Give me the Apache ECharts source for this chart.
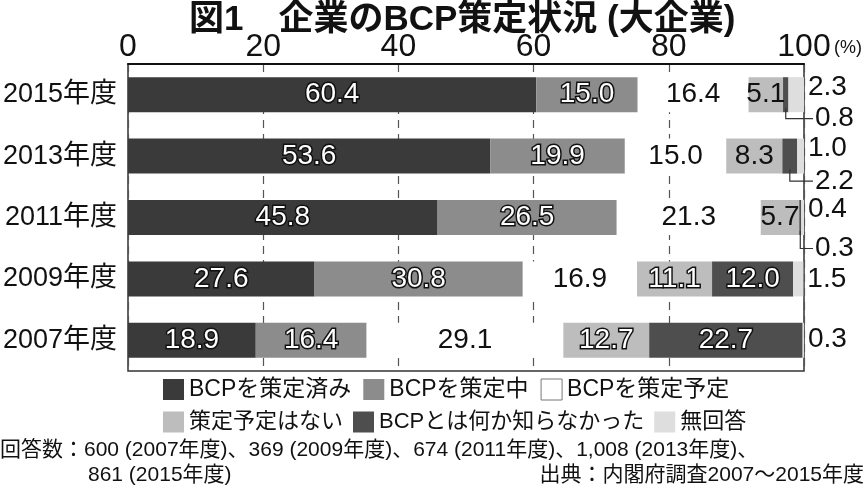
<!DOCTYPE html>
<html>
<head>
<meta charset="utf-8">
<script src="https://cdn.jsdelivr.net/npm/echarts@6/dist/echarts.min.js"></script>
<style>
html,body{margin:0;padding:0;background:#fff;}
#c{width:864px;height:493px;}
</style>
</head>
<body>
<div id="c"></div>
<script>
// ---- data ----
const years = ['2015年度', '2013年度', '2011年度', '2009年度', '2007年度'];
const seriesNames = ['BCPを策定済み', 'BCPを策定中', 'BCPを策定予定', '策定予定はない', 'BCPとは何か知らなかった', '無回答'];
const done      = [60.4, 53.6, 45.8, 27.6, 18.9];
const inProg    = [15.0, 19.9, 26.5, 30.8, 16.4];
const planned   = [16.4, 15.0, 21.3, 16.9, 29.1];
const noPlan    = [5.1, 8.3, 5.7, 11.1, 12.7];
const unknown   = [0.8, 2.2, 0.3, 12.0, 22.7];
const noAnswer  = [2.3, 1.0, 0.4, 1.5, 0.3];
const xTicks    = [0, 20, 40, 60, 80, 100];
const unitText  = '(%)';
const titleText = '図1　企業のBCP策定状況 (大企業)';
const noteLine1 = '回答数：600 (2007年度)、369 (2009年度)、674 (2011年度)、1,008 (2013年度)、';
const noteLine2 = '861 (2015年度)';
const sourceText = '出典：内閣府調査2007～2015年度';

// ---- styles ----
const FONT = "'Liberation Sans', 'Noto Sans CJK JP', sans-serif";
const colors = ['#3a3a3a', '#8c8c8c', '#ffffff', '#bdbdbd', '#4e4e4e', '#dedede'];
const fmt = p => Number(p.value).toFixed(1);
const outlined = { color: '#fff', textBorderColor: '#111', textBorderWidth: 3, fontSize: 28, fontFamily: FONT, formatter: fmt };
const plain = { color: '#111', fontSize: 28, fontFamily: FONT, formatter: fmt };
const labelKind = [
  ['o','o','o','o','o'],
  ['o','o','o','o','o'],
  ['p','p','p','p','p'],
  ['p','p','p','o','o'],
  ['x','x','x','o','o'],
  ['r','r','r','r','r']
];
const rightLabelDy = [-7, -8, -8, 0, -1];
const leaderDy = [24, 25, 31];

const allVals = [done, inProg, planned, noPlan, unknown, noAnswer];

function makeData(si) {
  return allVals[si].map((v, ci) => {
    const k = labelKind[si][ci];
    let label;
    if (k === 'o') label = Object.assign({ show: true, position: 'inside' }, outlined);
    else if (k === 'p') label = Object.assign({ show: true, position: 'inside' }, plain);
    else if (k === 'x') label = { show: false };
    else label = { show: true, position: 'right', distance: 4, offset: [0, rightLabelDy[ci]], color: '#111', fontSize: 28, fontFamily: FONT, formatter: fmt };
    return { value: v, label };
  });
}

const barSeries = seriesNames.map((name, si) => ({
  name, type: 'bar', stack: 'total', barWidth: '57%',
  itemStyle: { color: colors[si] },
  emphasis: { disabled: true },
  data: makeData(si)
}));

const leaderData = [];
years.forEach((y, ci) => {
  if (labelKind[4][ci] === 'x') {
    const start = done[ci] + inProg[ci] + planned[ci] + noPlan[ci];
    leaderData.push([start + unknown[ci] / 2, ci, unknown[ci]]);
  }
});

const leaderSeries = {
  type: 'custom', z: 10, silent: true,
  encode: { x: 0, y: 1 },
  data: leaderData,
  renderItem(params, api) {
    const xc = api.value(0), ci = api.value(1), v = api.value(2);
    const p = api.coord([xc, ci]);
    const band = api.size([0, 1])[1];
    const half = band * 0.57 / 2;
    const right = api.coord([100, ci])[0];
    const ly = p[1] + leaderDy[params.dataIndex];
    return {
      type: 'group',
      children: [
        { type: 'polyline', shape: { points: [[p[0], p[1] + half - 4], [p[0], ly], [right + 9, ly]] },
          style: { stroke: '#333', lineWidth: 1.2, fill: null } },
        { type: 'text', style: { text: v.toFixed(1), x: right + 11, y: ly, verticalAlign: 'middle', align: 'left',
          font: '28px ' + FONT, fill: '#111' } }
      ]
    };
  }
};

const chart = echarts.init(document.getElementById('c'), null, { renderer: 'canvas' });
chart.setOption({
  animation: false,
  backgroundColor: '#fff',
  title: {
    text: titleText, left: 184, top: -2,
    textStyle: { fontSize: 35, fontWeight: 'bold', color: '#111', fontFamily: FONT }
  },
  legend: [
    {
      data: [
        { name: seriesNames[0] }, { name: seriesNames[1] },
        { name: seriesNames[2], itemStyle: { borderColor: '#777', borderWidth: 1 } }
      ],
      left: 158, top: 373, itemWidth: 21, itemHeight: 21, itemGap: 12, icon: 'rect',
      textStyle: { fontSize: 23, color: '#111', fontFamily: FONT }, selectedMode: false
    },
    {
      data: [seriesNames[3], seriesNames[4], seriesNames[5]],
      left: 158, top: 406, itemWidth: 21, itemHeight: 21, itemGap: 10, icon: 'rect',
      textStyle: { fontSize: 22, color: '#111', fontFamily: FONT }, selectedMode: false
    }
  ],
  grid: { left: 128, right: 60, top: 64, bottom: 122, outerBoundsMode: 'none', containLabel: false,
    show: true, borderColor: '#333', borderWidth: 1.5, backgroundColor: 'transparent' },
  xAxis: {
    type: 'value', position: 'top', min: xTicks[0], max: xTicks[xTicks.length - 1], interval: xTicks[1] - xTicks[0],
    axisLine: { show: true, lineStyle: { color: '#111', width: 2 } },
    axisTick: { show: false },
    axisLabel: { fontSize: 32, color: '#111', margin: 1, fontFamily: FONT },
    splitLine: { show: true, lineStyle: { color: '#555', width: 1.2, type: [8, 6] } }
  },
  yAxis: {
    type: 'category', data: years, inverse: true,
    axisLine: { show: false }, axisTick: { show: false },
    axisLabel: { fontSize: 27, color: '#111', margin: 11, fontFamily: FONT }
  },
  series: barSeries.concat([leaderSeries]),
  graphic: [
    { type: 'text', left: 834, top: 39, style: { text: unitText, font: '18px ' + FONT, fill: '#111' } },
    { type: 'text', left: 0, top: 440, style: { text: noteLine1, font: '21px ' + FONT, fill: '#111' } },
    { type: 'text', left: 88, top: 465, style: { text: noteLine2, font: '21px ' + FONT, fill: '#111' } },
    { type: 'text', right: 0, top: 465, style: { text: sourceText, font: '21px ' + FONT, fill: '#111' } }
  ]
});
</script>
</body>
</html>
